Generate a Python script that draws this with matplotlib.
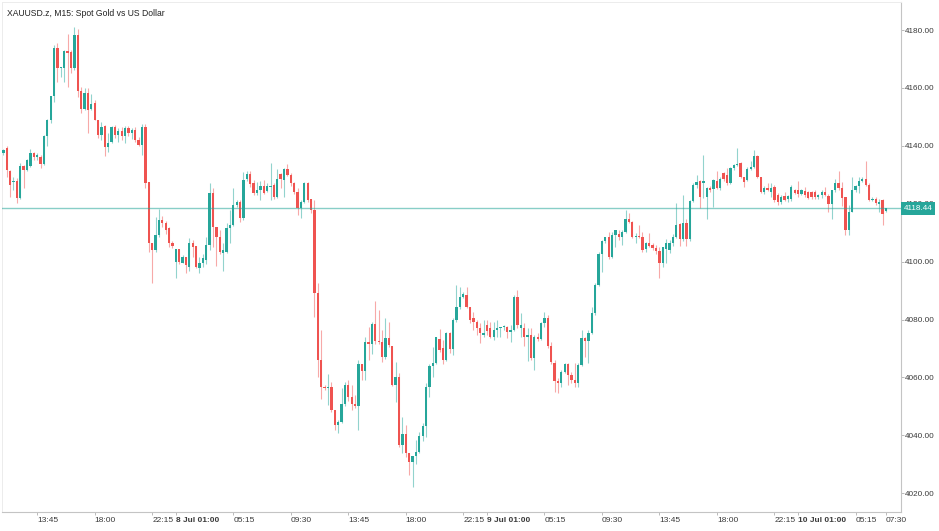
import numpy as np
import matplotlib.pyplot as plt
from matplotlib.patches import Rectangle
import matplotlib.transforms as mtransforms

# 15-minute candles, XAUUSD.z
opens = [
    4137.5, 4139.4, 4131.4, 4127.5, 4128.0, 4121.9, 4133.1, 4131.6, 4133.0, 4137.7,
    4136.0, 4136.0, 4133.7, 4143.5, 4148.9, 4157.2, 4173.7, 4166.8, 4167.0, 4172.9,
    4172.5, 4166.8, 4178.3, 4159.1, 4152.6, 4158.4, 4152.6, 4154.7, 4149.1, 4143.7,
    4146.8, 4139.5, 4141.5, 4146.4, 4143.7, 4145.0, 4143.5, 4146.0, 4144.5, 4145.5,
    4142.0, 4140.3, 4146.5, 4127.6, 4106.3, 4104.0, 4109.2, 4114.4, 4113.2, 4111.5,
    4106.5, 4100.0, 4104.2, 4099.6, 4101.5, 4098.2, 4106.5, 4105.4, 4097.7, 4099.4,
    4100.5, 4105.7, 4123.6, 4111.8, 4108.6, 4102.9, 4103.4, 4111.5, 4112.6, 4119.6,
    4120.7, 4115.0, 4128.4, 4130.3, 4127.0, 4123.6, 4124.7, 4126.1, 4124.5, 4125.7,
    4126.5, 4122.4, 4130.3, 4128.2, 4131.9, 4129.9, 4127.3, 4124.2, 4118.4, 4120.7,
    4127.3, 4121.5, 4118.0, 4089.0, 4066.0, 4056.8, 4056.2, 4056.8, 4048.7, 4043.5,
    4044.7, 4050.8, 4057.4, 4053.3, 4050.8, 4050.1, 4064.6, 4062.3, 4072.3, 4071.5,
    4078.4, 4072.7, 4072.3, 4066.9, 4073.5, 4070.8, 4057.4, 4060.0, 4036.6, 4040.6,
    4033.8, 4030.9, 4032.9, 4034.3, 4039.6, 4043.2, 4056.8, 4063.9, 4065.1, 4073.1,
    4070.3, 4066.0, 4075.2, 4069.8, 4079.8, 4084.4, 4087.9, 4088.5, 4084.4, 4080.4,
    4079.2, 4077.2, 4074.7, 4078.0, 4077.2, 4074.1, 4076.4, 4077.0, 4077.4, 4077.5,
    4075.6, 4076.4, 4087.9, 4077.0, 4077.0, 4074.1, 4074.7, 4066.6, 4074.1, 4073.3,
    4078.7, 4080.6, 4070.9, 4065.1, 4058.9, 4058.2, 4062.0, 4064.6, 4060.8, 4059.1,
    4057.9, 4064.3, 4073.5, 4072.7, 4075.4, 4082.1, 4091.9, 4102.6, 4107.2, 4108.4,
    4101.7, 4109.2, 4109.5, 4108.4, 4110.3, 4114.9, 4113.8, 4108.5, 4108.8, 4108.6,
    4104.2, 4106.5, 4105.7, 4104.6, 4103.8, 4099.6, 4104.2, 4104.0, 4106.3, 4108.6,
    4113.0, 4107.7, 4113.2, 4107.7, 4121.0, 4126.5, 4128.0, 4127.0, 4122.4, 4125.3,
    4125.0, 4128.0, 4125.3, 4130.5, 4129.9, 4127.0, 4132.2, 4133.4, 4134.2, 4129.1,
    4128.2, 4131.9, 4132.8, 4136.5, 4129.1, 4124.2, 4125.6, 4124.2, 4125.9, 4123.0,
    4120.7, 4122.6, 4121.5, 4121.5, 4124.7, 4124.7, 4123.4, 4124.5, 4124.2, 4124.2,
    4124.2, 4122.4, 4123.0, 4124.2, 4122.7, 4119.9, 4124.7, 4127.0, 4125.3, 4122.2,
    4111.1, 4117.2, 4124.7, 4126.1, 4128.0, 4128.4, 4126.5, 4121.3, 4121.5, 4120.0,
    4121.3, 4117.6]

highs = [
    4139.0, 4140.0, 4131.6, 4129.3, 4129.0, 4134.0, 4133.5, 4135.6, 4139.0, 4137.9,
    4137.4, 4136.8, 4143.7, 4149.3, 4157.2, 4174.8, 4175.6, 4167.3, 4173.1, 4178.8,
    4173.1, 4180.9, 4180.2, 4160.4, 4159.9, 4159.9, 4157.9, 4156.0, 4149.1, 4148.3,
    4147.2, 4144.3, 4146.8, 4147.2, 4146.0, 4146.5, 4146.8, 4147.0, 4146.0, 4146.5,
    4143.0, 4147.5, 4147.5, 4127.6, 4106.3, 4115.3, 4118.1, 4115.8, 4114.0, 4112.0,
    4107.2, 4104.2, 4104.5, 4102.3, 4101.7, 4108.0, 4107.5, 4105.4, 4101.5, 4102.8,
    4108.6, 4127.0, 4125.3, 4111.8, 4110.9, 4106.3, 4113.2, 4117.8, 4125.3, 4121.3,
    4121.3, 4131.1, 4131.4, 4131.4, 4128.2, 4127.6, 4128.0, 4128.2, 4127.0, 4134.2,
    4127.0, 4131.9, 4130.5, 4132.2, 4133.7, 4130.5, 4127.6, 4125.3, 4121.3, 4127.6,
    4127.6, 4121.5, 4121.3, 4092.5, 4076.4, 4057.5, 4061.2, 4058.5, 4048.7, 4045.3,
    4056.2, 4058.5, 4059.1, 4057.4, 4053.9, 4066.0, 4064.6, 4073.8, 4077.5, 4079.2,
    4086.5, 4083.3, 4076.4, 4080.4, 4079.2, 4070.8, 4065.4, 4061.4, 4046.4, 4043.5,
    4033.8, 4032.9, 4038.4, 4041.2, 4044.1, 4057.9, 4064.6, 4070.6, 4074.1, 4076.6,
    4072.9, 4075.8, 4075.8, 4080.4, 4091.9, 4091.3, 4089.5, 4091.3, 4084.4, 4082.7,
    4079.8, 4078.7, 4079.8, 4079.8, 4079.2, 4079.2, 4079.8, 4077.5, 4078.1, 4077.9,
    4078.1, 4088.5, 4090.2, 4082.1, 4078.7, 4076.9, 4076.9, 4074.7, 4075.2, 4079.3,
    4082.7, 4081.5, 4072.3, 4066.0, 4059.7, 4062.6, 4064.9, 4064.9, 4062.0, 4064.9,
    4064.9, 4076.4, 4074.0, 4076.4, 4084.4, 4092.5, 4103.4, 4107.5, 4108.6, 4110.3,
    4110.3, 4111.1, 4111.1, 4110.9, 4117.8, 4116.7, 4114.2, 4110.0, 4112.6, 4110.3,
    4106.8, 4110.0, 4106.5, 4105.7, 4105.2, 4105.2, 4107.7, 4107.5, 4109.5, 4120.4,
    4113.2, 4123.0, 4114.6, 4121.3, 4127.3, 4130.0, 4128.2, 4136.8, 4125.8, 4126.0,
    4128.4, 4131.4, 4129.3, 4131.1, 4132.2, 4132.8, 4133.7, 4139.1, 4134.5, 4129.3,
    4132.6, 4134.9, 4138.5, 4136.8, 4129.3, 4126.0, 4127.3, 4127.3, 4126.5, 4123.6,
    4123.0, 4124.2, 4123.0, 4126.5, 4125.0, 4128.0, 4125.0, 4125.9, 4124.5, 4124.5,
    4124.7, 4123.4, 4124.7, 4125.9, 4123.3, 4124.9, 4128.4, 4131.4, 4127.6, 4122.2,
    4119.5, 4129.1, 4126.5, 4129.1, 4129.1, 4134.9, 4127.3, 4122.4, 4122.2, 4121.5,
    4121.5, 4118.7]

lows = [
    4137.0, 4129.3, 4122.4, 4124.7, 4120.1, 4121.5, 4125.3, 4131.4, 4132.8, 4135.1,
    4135.1, 4132.2, 4133.4, 4140.0, 4148.0, 4155.0, 4162.1, 4163.9, 4162.1, 4160.4,
    4165.0, 4166.2, 4157.0, 4151.4, 4152.4, 4144.3, 4152.4, 4148.9, 4142.6, 4142.0,
    4136.5, 4138.0, 4141.1, 4142.6, 4141.5, 4142.0, 4141.0, 4143.5, 4142.5, 4141.5,
    4140.0, 4137.0, 4125.3, 4103.4, 4092.5, 4103.5, 4108.6, 4111.8, 4109.5, 4105.2,
    4104.6, 4094.2, 4099.2, 4099.4, 4096.2, 4096.9, 4101.5, 4097.7, 4096.2, 4098.0,
    4099.2, 4104.0, 4105.2, 4098.5, 4102.5, 4096.9, 4103.0, 4106.3, 4112.3, 4119.0,
    4113.8, 4114.4, 4128.0, 4125.9, 4123.0, 4123.0, 4121.3, 4123.3, 4124.2, 4121.3,
    4121.5, 4122.0, 4125.3, 4122.4, 4129.5, 4126.0, 4123.5, 4116.0, 4115.0, 4120.1,
    4120.5, 4116.7, 4081.0, 4060.2, 4052.7, 4055.5, 4050.5, 4048.0, 4041.8, 4040.9,
    4044.1, 4050.1, 4052.0, 4048.7, 4049.5, 4041.8, 4059.1, 4059.1, 4066.0, 4068.1,
    4071.5, 4071.5, 4065.4, 4066.5, 4070.5, 4057.0, 4051.6, 4036.0, 4034.0, 4032.6,
    4026.3, 4022.0, 4030.1, 4034.0, 4038.1, 4039.5, 4053.3, 4060.0, 4064.8, 4068.9,
    4064.5, 4065.5, 4068.5, 4067.7, 4079.0, 4083.5, 4087.5, 4084.0, 4078.7, 4076.4,
    4074.6, 4071.8, 4074.0, 4074.5, 4073.5, 4072.9, 4074.1, 4074.1, 4076.4, 4073.5,
    4072.3, 4076.0, 4076.9, 4074.1, 4071.0, 4065.7, 4066.0, 4062.5, 4072.5, 4072.9,
    4077.5, 4070.0, 4064.5, 4055.1, 4054.5, 4056.8, 4061.4, 4057.4, 4058.0, 4056.8,
    4056.8, 4064.0, 4067.2, 4065.0, 4075.0, 4081.5, 4091.5, 4096.5, 4106.5, 4101.0,
    4101.2, 4105.2, 4107.5, 4105.7, 4110.0, 4113.5, 4108.3, 4106.3, 4108.0, 4103.5,
    4103.5, 4105.0, 4104.0, 4102.6, 4094.2, 4098.2, 4099.4, 4103.0, 4105.5, 4108.0,
    4105.4, 4107.3, 4105.5, 4107.0, 4120.5, 4125.5, 4118.4, 4122.0, 4114.6, 4124.0,
    4119.0, 4125.0, 4124.8, 4128.0, 4126.5, 4126.8, 4131.8, 4133.0, 4128.8, 4125.9,
    4127.8, 4131.5, 4132.5, 4128.8, 4123.8, 4123.5, 4124.5, 4122.2, 4120.5, 4119.5,
    4120.0, 4121.0, 4120.5, 4121.0, 4123.5, 4122.5, 4123.0, 4122.2, 4121.5, 4121.8,
    4121.8, 4121.5, 4122.0, 4122.8, 4117.2, 4114.6, 4124.2, 4124.8, 4119.2, 4109.2,
    4109.2, 4117.0, 4124.0, 4123.8, 4127.5, 4126.0, 4121.0, 4120.8, 4119.5, 4117.2,
    4112.6, 4117.0]

closes = [
    4138.5, 4131.6, 4126.5, 4128.0, 4121.9, 4133.1, 4131.6, 4135.1, 4137.7, 4136.0,
    4136.8, 4133.7, 4143.5, 4148.9, 4157.2, 4173.7, 4166.8, 4167.2, 4172.9, 4172.0,
    4166.8, 4178.3, 4159.1, 4152.6, 4158.4, 4152.4, 4154.4, 4148.9, 4143.7, 4146.4,
    4139.5, 4141.1, 4146.4, 4143.7, 4145.0, 4143.5, 4146.0, 4144.5, 4145.5, 4142.0,
    4140.3, 4146.5, 4127.0, 4106.3, 4104.0, 4109.2, 4114.4, 4113.2, 4111.1, 4106.5,
    4105.4, 4104.2, 4100.0, 4101.5, 4098.8, 4106.3, 4105.2, 4098.0, 4099.4, 4101.1,
    4105.7, 4123.6, 4111.8, 4108.6, 4103.2, 4104.0, 4111.5, 4112.6, 4119.6, 4120.7,
    4115.0, 4128.2, 4130.3, 4126.8, 4123.6, 4124.7, 4126.1, 4123.6, 4126.1, 4126.1,
    4122.4, 4128.4, 4128.4, 4131.9, 4129.9, 4127.0, 4124.2, 4118.4, 4120.7, 4127.3,
    4121.3, 4117.8, 4089.0, 4066.0, 4056.8, 4056.2, 4056.8, 4048.7, 4043.5, 4044.7,
    4050.8, 4057.4, 4053.3, 4050.8, 4050.1, 4064.6, 4062.3, 4072.3, 4071.5, 4078.4,
    4072.7, 4072.3, 4066.9, 4073.5, 4071.2, 4057.4, 4060.0, 4036.6, 4040.6, 4033.8,
    4030.9, 4032.9, 4034.3, 4039.7, 4043.2, 4056.8, 4063.9, 4065.1, 4073.8, 4069.5,
    4066.0, 4075.2, 4069.8, 4079.8, 4084.4, 4087.9, 4088.7, 4084.4, 4079.8, 4079.2,
    4077.2, 4075.2, 4075.3, 4076.0, 4074.1, 4076.4, 4077.0, 4077.4, 4077.7, 4075.6,
    4076.4, 4087.9, 4078.1, 4078.1, 4074.1, 4074.7, 4066.6, 4074.1, 4073.3, 4078.7,
    4080.6, 4070.9, 4065.2, 4058.9, 4058.2, 4062.0, 4064.6, 4060.8, 4059.1, 4057.9,
    4064.3, 4073.5, 4072.7, 4075.4, 4082.1, 4091.9, 4102.6, 4107.2, 4108.4, 4101.7,
    4109.2, 4110.9, 4108.4, 4110.3, 4114.9, 4113.8, 4108.6, 4108.8, 4108.6, 4104.0,
    4106.5, 4105.4, 4104.6, 4103.8, 4099.6, 4104.9, 4106.5, 4106.3, 4108.6, 4112.6,
    4107.7, 4113.2, 4107.7, 4121.0, 4126.5, 4127.6, 4122.2, 4128.0, 4125.3, 4124.8,
    4128.2, 4125.3, 4128.4, 4128.4, 4127.0, 4132.2, 4133.4, 4133.7, 4129.1, 4127.6,
    4131.9, 4132.8, 4136.5, 4129.1, 4124.2, 4125.6, 4124.9, 4125.6, 4121.3, 4120.7,
    4122.4, 4121.3, 4122.6, 4125.9, 4123.8, 4123.4, 4124.7, 4123.0, 4121.9, 4122.2,
    4122.2, 4123.0, 4124.2, 4123.0, 4119.9, 4124.7, 4127.0, 4125.3, 4121.9, 4111.1,
    4117.2, 4124.7, 4126.1, 4128.0, 4128.4, 4126.5, 4121.3, 4121.8, 4120.1, 4120.6,
    4116.4, 4118.44]

# time axis: bar index of each label
tick_bars = [10, 27, 44, 51, 68, 85, 102, 119, 136, 143, 160, 177, 194, 211, 228, 235, 252, 261]
tick_labels = ['13:45', '18:00', '22:15', '8 Jul 01:00', '05:15', '09:30', '13:45', '18:00',
               '22:15', '9 Jul 01:00', '05:15', '09:30', '13:45', '18:00', '22:15',
               '10 Jul 01:00', '05:15', '07:30']
price_ticks = [4020, 4040, 4060, 4080, 4100, 4120, 4140, 4160, 4180]

UP, DOWN = '#26a69a', '#ef5350'
UP_WICK, DOWN_WICK = '#92d3cd', '#f7a9a8'

plt.rcParams['font.family'] = ['Liberation Sans', 'DejaVu Sans']

W, H = 939, 531
fig = plt.figure(figsize=(W / 100, H / 100), dpi=100)
ax = fig.add_axes([2 / W, 1 - 512 / H, 898.5 / W, 510 / H])

o = np.array(opens)
hi = np.array(highs)
lo = np.array(lows)
c = np.array(closes)
x = np.arange(len(c))
up = c >= o

ax.vlines(x[up], lo[up], hi[up], color=UP_WICK, linewidth=0.8, zorder=2)
ax.vlines(x[~up], lo[~up], hi[~up], color=DOWN_WICK, linewidth=0.8, zorder=2)
body_lo = np.minimum(o, c)
body_h = np.maximum(np.abs(c - o), 0.35)
ax.bar(x[up], body_h[up], bottom=body_lo[up], width=0.68, color=UP, linewidth=0, zorder=3)
ax.bar(x[~up], body_h[~up], bottom=body_lo[~up], width=0.68, color=DOWN, linewidth=0, zorder=3)

# last price line
last = closes[-1]
ax.axhline(last, color=UP, alpha=0.55, linewidth=1.0, zorder=4)

ax.set_xlim(-0.4, 265.3)
ax.set_ylim(4013.5, 4189.7)

ax.yaxis.tick_right()
ax.set_yticks(price_ticks)
ax.set_yticklabels(['%.2f' % p for p in price_ticks])
ax.set_xticks(tick_bars)
ax.set_xticklabels(tick_labels)
for lab in ax.get_xticklabels():
    lab.set_ha('left')
    if 'Jul' in lab.get_text():
        lab.set_fontweight('bold')
        lab.set_fontsize(6.8)
ax.tick_params(axis='y', which='both', length=2.2, width=0.6, color='#b0b0b0',
               labelsize=5.9, labelcolor='#3a3a3a', pad=1.2)
ax.tick_params(axis='x', which='both', length=2.2, width=0.6, color='#b0b0b0',
               labelsize=6.0, labelcolor='#3a3a3a', pad=1.5)

for side in ['top', 'left']:
    ax.spines[side].set_color('#ececec')
    ax.spines[side].set_linewidth(0.7)
for side in ['right', 'bottom']:
    ax.spines[side].set_color('#c4c4c4')
    ax.spines[side].set_linewidth(0.8)

# last price box on the price scale
trans = mtransforms.blended_transform_factory(ax.transAxes, ax.transData)
box_w = 35.0 / 898.5
box_h = 13.5 / 2.894
ax.add_patch(Rectangle((1.0, last - box_h / 2), box_w, box_h, transform=trans,
                       facecolor=UP, edgecolor='none', clip_on=False, zorder=10))
ax.text(1.0 + box_w / 2, last, '%.2f' % last, transform=trans, ha='center', va='center',
        color='white', fontsize=5.9, zorder=11, clip_on=False)

fig.text(7 / W, 1 - 13.7 / H, 'XAUUSD.z, M15: Spot Gold vs US Dollar', ha='left', va='center',
         fontsize=6.2, color='#222222')

fig.savefig('out.png', dpi=100)
